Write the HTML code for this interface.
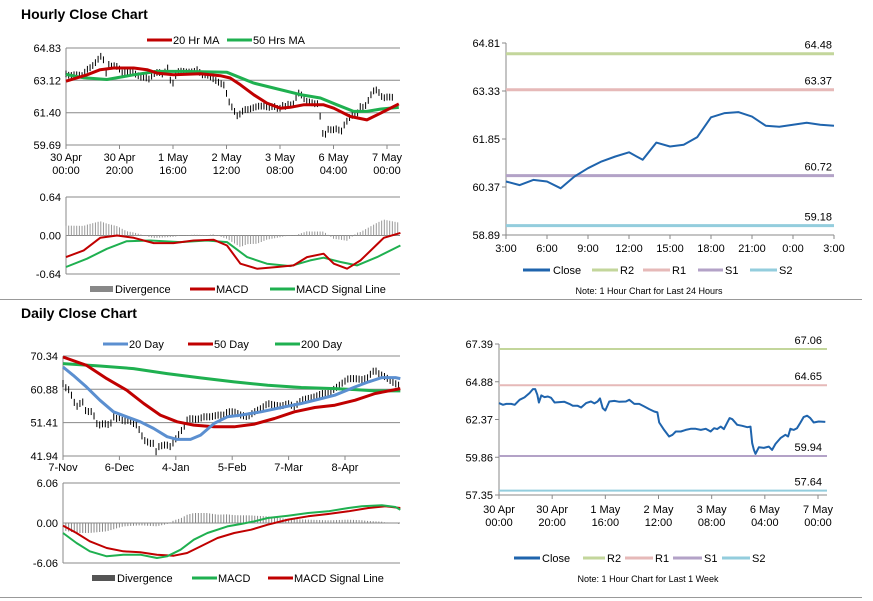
<!DOCTYPE html>
<html><head><meta charset="utf-8"><style>
html,body{margin:0;padding:0;background:#fff;}
svg{display:block;font-family:"Liberation Sans",Arial,sans-serif;}
</style></head><body>
<svg id="c" width="873" height="601" viewBox="0 0 873 601">
<rect x="0" y="0" width="873" height="601" fill="#fff"/>
<line x1="0" y1="299.5" x2="862" y2="299.5" stroke="#999"/>
<line x1="0" y1="597.5" x2="862" y2="597.5" stroke="#999"/>
<text x="21" y="19" font-size="14" font-weight="bold">Hourly Close Chart</text>
<text x="21" y="318" font-size="14" font-weight="bold">Daily Close Chart</text>

<g font-size="11">
<line x1="147" y1="40" x2="172" y2="40" stroke="#c00000" stroke-width="3"/>
<text x="173" y="44">20 Hr MA</text>
<line x1="227" y1="40" x2="252" y2="40" stroke="#1fb050" stroke-width="3"/>
<text x="253" y="44">50 Hrs MA</text>
</g>
<g font-size="11">
<rect x="90" y="286" width="23" height="6" fill="#888"/>
<text x="115" y="293">Divergence</text>
<line x1="190" y1="289" x2="215" y2="289" stroke="#c00000" stroke-width="3"/>
<text x="216" y="293">MACD</text>
<line x1="270" y1="289" x2="295" y2="289" stroke="#1fb050" stroke-width="3"/>
<text x="296" y="293">MACD Signal Line</text>
</g>
<g font-size="11">
<line x1="103" y1="344" x2="128" y2="344" stroke="#5b8fd0" stroke-width="3"/>
<text x="129" y="348">20 Day</text>
<line x1="188" y1="344" x2="213" y2="344" stroke="#c00000" stroke-width="3"/>
<text x="214" y="348">50 Day</text>
<line x1="275" y1="344" x2="300" y2="344" stroke="#1fb050" stroke-width="3"/>
<text x="301" y="348">200 Day</text>
</g>
<g font-size="11">
<rect x="92" y="575" width="23" height="6" fill="#555"/>
<text x="117" y="582">Divergence</text>
<line x1="192" y1="578" x2="217" y2="578" stroke="#1fb050" stroke-width="3"/>
<text x="218" y="582">MACD</text>
<line x1="268" y1="578" x2="293" y2="578" stroke="#c00000" stroke-width="3"/>
<text x="294" y="582">MACD Signal Line</text>
</g>
<g font-size="11">
<line x1="523" y1="270" x2="550" y2="270" stroke="#1f64ad" stroke-width="3"/>
<text x="553" y="274">Close</text>
<line x1="592" y1="270" x2="618" y2="270" stroke="#c3d69b" stroke-width="3"/>
<text x="620" y="274">R2</text>
<line x1="643" y1="270" x2="670" y2="270" stroke="#e6b9b8" stroke-width="3"/>
<text x="672" y="274">R1</text>
<line x1="698" y1="270" x2="723" y2="270" stroke="#b3a2c7" stroke-width="3"/>
<text x="725" y="274">S1</text>
<line x1="750" y1="270" x2="777" y2="270" stroke="#93cddd" stroke-width="3"/>
<text x="779" y="274">S2</text>
<text x="649" y="294" font-size="9" text-anchor="middle">Note: 1 Hour Chart for Last 24 Hours</text>
</g>
<g font-size="11">
<line x1="514" y1="558" x2="540" y2="558" stroke="#1f64ad" stroke-width="3"/>
<text x="542" y="562">Close</text>
<line x1="583" y1="558" x2="605" y2="558" stroke="#c3d69b" stroke-width="3"/>
<text x="607" y="562">R2</text>
<line x1="625" y1="558" x2="653" y2="558" stroke="#e6b9b8" stroke-width="3"/>
<text x="655" y="562">R1</text>
<line x1="673" y1="558" x2="702" y2="558" stroke="#b3a2c7" stroke-width="3"/>
<text x="704" y="562">S1</text>
<line x1="722" y1="558" x2="750" y2="558" stroke="#93cddd" stroke-width="3"/>
<text x="752" y="562">S2</text>
<text x="648" y="582" font-size="9" text-anchor="middle">Note: 1 Hour Chart for Last 1 Week</text>
</g>
</svg>
<script>
// ---------- DATA ----------
const weekHours=[0,1.5,2.75,4.6,5.9,7.75,9.6,11.5,12.75,13.6,14.4,15,15.9,17.1,18.4,19.6,20.9,22.75,24.6,26.5,27.75,29.6,30.9,32.75,34.6,35.9,37.1,38,39,40,41.5,43.4,45.25,47.75,49,50.9,52.75,54.6,56.5,58.4,59.6,60.25,62.1,64,65.25,66.5,68.4,70.25,72.1,74,75.9,77.75,79.6,80.9,82.1,83.4,84.6,86.75,87.75,89.6,91.5,93.4,94.6,95.25,95.9,96.5,97.75,99.6,101.5,102.75,104,105.9,107.75,108.75,109.6,110.9,112.1,113.4,114.6,115.9,117.1,118.4,120.25,122.75];
const weekClose=[63.46,63.35,63.41,63.41,63.35,63.68,63.84,64.13,64.39,64.39,64.02,63.50,63.97,63.86,63.90,63.81,63.50,63.53,63.55,63.41,63.28,63.28,63.17,63.46,63.57,63.44,63.57,63.77,63.13,62.97,63.57,63.61,63.55,63.57,63.68,63.41,63.41,63.24,63.06,62.90,62.84,62.17,61.68,61.24,61.35,61.57,61.57,61.68,61.75,61.75,61.68,61.75,61.57,61.79,61.73,61.90,61.73,62.46,62.39,62.02,61.95,61.86,61.90,60.79,60.35,60.08,60.53,60.48,60.57,60.35,60.75,61.13,61.35,61.24,61.75,61.68,61.79,62.17,62.53,62.62,62.46,62.17,62.24,62.21];
const hourTickHours=[0,20,40,60,80,100,120];
const hourTickLine1=["30 Apr","30 Apr","1 May","2 May","3 May","6 May","7 May"];
const hourTickLine2=["00:00","20:00","16:00","12:00","08:00","04:00","00:00"];
const ma20Hours=[0,7.85,12.8,17.8,25.3,30.3,34,40.2,50.2,57.7,61.4,65.2,70.2,75.1,80.1,83.9,88.8,96.3,100.1,106.3,112.5,117.5,124.4];
const ma20Values=[63.07,63.41,63.68,63.77,63.77,63.68,63.50,63.41,63.47,63.36,63.24,62.88,62.35,61.91,61.64,61.69,61.82,61.82,61.64,61.20,61.02,61.37,61.87];
const ma50Hours=[0,6.6,15.3,25.3,34,43.9,60.2,63.9,70.2,77.6,87.6,95.1,101.3,107.5,112.5,117.5,124.4];
const ma50Values=[63.43,63.25,63.16,63.41,63.59,63.59,63.54,63.33,62.97,62.71,62.36,62.18,61.82,61.47,61.47,61.59,61.68];
const hMacdHours=[0,6.6,12.8,19.1,25.3,32.8,40.2,47.7,55.2,60.2,65.2,71.4,78.9,85.1,90.1,96.3,100.1,105.1,110.1,118.8,125];
const hMacdValues=[-0.359,-0.248,-0.039,0.0,-0.039,-0.127,-0.127,-0.083,-0.072,-0.166,-0.469,-0.552,-0.524,-0.497,-0.359,-0.303,-0.469,-0.552,-0.414,-0.039,0.044];
const hSigHours=[0,7.85,15.3,22.7,31.5,42.7,52.7,60.2,67.7,75.1,83.9,91.3,96.3,102.6,108.8,116.3,125];
const hSigValues=[-0.524,-0.386,-0.221,-0.094,-0.083,-0.110,-0.083,-0.110,-0.359,-0.469,-0.508,-0.414,-0.369,-0.441,-0.497,-0.359,-0.166];
const hPriceTicks=[59.69,61.40,63.12,64.83];
const hMacdTicks=[-0.64,0.00,0.64];

const dayIdx=[0,1.2,2.4,3.6,4.8,6.0,7.1,8.3,9.5,10.7,11.9,13.1,14.3,15.5,16.7,17.9,19.0,20.2,21.4,22.6,23.8,25.0,26.2,27.4,28.6,29.8,31.0,32.1,32.7,33.9,35.7,36.9,38.1,39.3,40.5,41.7,42.9,44.0,45.2,47.6,50.0,52.4,54.8,57.1,58.3,60.7,63.1,65.5,67.9,70.2,72.6,75.0,77.4,79.8,82.1,84.5,86.9,89.3,91.7,94.0,96.4,98.8,101.2,103.6,106.0,108.3,109.5,110.7,111.9,114.3,116.7,119.0,119.6];
const dayClose=[62.51,61.09,60.62,57.79,55.90,56.85,57.32,54.02,54.96,54.02,51.19,50.72,51.19,51.00,50.72,53.07,52.60,52.89,51.66,52.13,51.94,51.19,50.72,48.83,46.47,46.00,45.53,45.53,42.70,44.58,45.05,45.05,44.58,46.00,47.41,48.83,50.24,52.13,52.60,52.32,53.07,53.07,53.55,53.55,54.49,54.49,53.55,53.07,54.49,55.43,56.85,56.38,56.09,56.85,55.90,57.79,58.26,58.73,59.68,59.68,61.09,62.51,63.92,63.92,63.64,64.21,65.81,66.28,65.34,64.40,62.98,62.04,62.51];
const dayTickIdx=[0,20,40,60,80,100];
const dayTickLabels=["7-Nov","6-Dec","4-Jan","5-Feb","7-Mar","8-Apr"];
const d20Idx=[0,3.6,8.3,13.1,17.9,22.6,27.4,32.1,36.9,40.5,45.2,48.8,53.6,58.3,63.1,70.2,77.4,84.5,91.7,96.4,103.6,108.3,113.1,117.9,119.6];
const d20Values=[67.23,64.87,61.57,57.79,54.49,53.07,51.66,49.77,47.41,46.66,46.66,47.88,51.19,53.07,53.55,54.49,55.72,56.85,58.26,59.21,61.57,62.98,64.21,64.21,63.92];
const d50Idx=[0,8.3,15.5,22.6,28.6,34.5,40.5,46.4,53.6,60.7,67.9,75.0,82.1,89.3,96.4,103.6,110.7,119.6];
const d50Values=[70.06,67.70,63.92,60.62,56.85,53.55,51.66,50.72,50.24,50.24,51.00,52.60,54.49,55.72,56.38,57.79,59.68,61.09];
const d200Idx=[0,13.1,25.0,36.9,48.8,60.7,72.6,84.5,96.4,103.6,110.7,119.6];
const d200Values=[68.17,67.51,66.76,65.34,64.11,62.98,62.04,61.38,61.09,60.81,60.43,60.43];
const dMacdIdx=[0,4.8,9.5,15.5,21.4,27.4,33.3,36.9,41.7,46.4,51.2,58.3,63.1,67.9,72.6,79.8,86.9,94.0,101.2,106.0,113.1,117.9,119.6];
const dMacdValues=[-1.52,-3.03,-4.29,-5.05,-4.80,-4.80,-5.30,-5.05,-4.04,-2.53,-1.52,-0.51,-0.15,0.25,0.76,1.11,1.52,1.77,2.27,2.53,2.68,2.42,2.02];
const dSigIdx=[0,4.8,9.5,15.5,21.4,27.4,33.3,39.3,44.0,48.8,54.8,60.7,66.7,72.6,79.8,86.9,94.0,101.2,108.3,114.3,119.6];
const dSigValues=[-0.40,-1.52,-2.78,-3.79,-4.29,-4.44,-4.80,-4.95,-4.55,-3.54,-2.27,-1.52,-1.01,-0.25,0.51,1.01,1.36,1.77,2.27,2.53,2.27];
const dPriceTicks=[41.94,51.41,60.88,70.34];
const dMacdTicks=[-6.06,0.00,6.06];

const pivHourLabels=["3:00","6:00","9:00","12:00","15:00","18:00","21:00","0:00","3:00"];
const pivClose=[60.54,60.43,60.59,60.54,60.33,60.69,60.95,61.16,61.31,61.44,61.21,61.74,61.62,61.67,61.91,62.52,62.65,62.68,62.54,62.26,62.23,62.29,62.35,62.29,62.26];
const pivTicks=[58.89,60.37,61.85,63.33,64.81];
const pivLevelNames=["R2","R1","S1","S2"];
const pivLevels=[64.48,63.37,60.72,59.18];
const weekTicks=[57.35,59.86,62.37,64.88,67.39];
const weekLevels=[67.06,64.65,59.94,57.64];

// ---------- HELPERS ----------
const NS="http://www.w3.org/2000/svg";
const svg=document.getElementById('c');
const levelColors=["#c3d69b","#e6b9b8","#b3a2c7","#93cddd"];
function add(tag,attrs){const e=document.createElementNS(NS,tag);for(const k in attrs)e.setAttribute(k,attrs[k]);svg.appendChild(e);return e;}
function scale(d0,d1,r0,r1){return v=>r0+(v-d0)*(r1-r0)/(d1-d0);}
function interp(xs,ys,x){if(x<=xs[0])return ys[0];for(let i=1;i<xs.length;i++){if(x<=xs[i]){const t=(x-xs[i-1])/(xs[i]-xs[i-1]);return ys[i-1]+t*(ys[i]-ys[i-1]);}}return ys[ys.length-1];}
function pathD(xs,ys,sx,sy){return xs.map((x,i)=>(i?'L':'M')+sx(x).toFixed(1)+' '+sy(ys[i]).toFixed(1)).join(' ');}
function line(xs,ys,sx,sy,color,w,name){
  const p=add('path',{d:pathD(xs,ys,sx,sy),fill:'none',stroke:color,'stroke-width':w,'stroke-linejoin':'round'});
  
  
}
function text(x,y,s,anchor,name,size){
  const t=add('text',{x:x,y:y,'font-size':size||11,'text-anchor':anchor||'start'});
  t.textContent=s;
  
  
  return t;
}
function hline(x1,x2,y,color,w,name){
  const l=add('line',{x1:x1,x2:x2,y1:y,y2:y,stroke:color,'stroke-width':w});
  
  
}
function vline(x,y1,y2,color,w,name){
  const l=add('line',{x1:x,x2:x,y1:y1,y2:y2,stroke:color,'stroke-width':w});
  
  
}
function yAxisTicks(ticks,sy,x0,x1,grid,name){
  ticks.forEach(t=>{
    if(grid) hline(x0,x1,sy(t),'#888',1,name+'-gridline');
    text(x0-5,sy(t)+4,t.toFixed(2),'end',name+'-tick-label');
  });
  vline(x0,sy(ticks[ticks.length-1]),sy(ticks[0]),'#888',1,name+'-axis');
}
function bars(xs,sx,sy,hiFn,loFn,name){
  xs.forEach(x=>{
    const b=add('line',{x1:sx(x),x2:sx(x),y1:sy(hiFn(x)),y2:sy(loFn(x)),stroke:'#000','stroke-width':1});
    
    
  });
}

// ---------- HOURLY PRICE ----------
{
  const sx=scale(0,120,66,387), sy=scale(59.69,64.83,145,48);
  yAxisTicks(hPriceTicks,sy,66,400,true,'hourly-price');
  hourTickHours.forEach((h,i)=>{
    vline(sx(h),145,149,'#888',1,'hourly-x-tick');
    text(sx(h),161,hourTickLine1[i],'middle','hourly-x-label');
    text(sx(h),174,hourTickLine2[i],'middle','hourly-x-label');
  });
  const hrs=[];for(let h=0;h<=122;h++)hrs.push(h);
  bars(hrs,sx,sy,h=>interp(weekHours,weekClose,h)+0.18,h=>interp(weekHours,weekClose,h)-0.18,'hourly-price-bar');
  line(ma50Hours,ma50Values,sx,sy,'#1fb050',3,'hourly-50hr-ma-line');
  line(ma20Hours,ma20Values,sx,sy,'#c00000',3,'hourly-20hr-ma-line');
}
// ---------- HOURLY MACD ----------
{
  const sx=scale(0,120,66,387), sy=scale(-0.64,0.64,274,197);
  yAxisTicks(hMacdTicks,sy,66,400,true,'hourly-macd');
  for(let h=0;h<=124;h++){
    const d=interp(hMacdHours,hMacdValues,h)-interp(hSigHours,hSigValues,h);
    const b=add('line',{x1:sx(h),x2:sx(h),y1:sy(0),y2:sy(d),stroke:'#999','stroke-width':1});
    
    
  }
  line(hSigHours,hSigValues,sx,sy,'#1fb050',2,'hourly-macd-signal-line');
  line(hMacdHours,hMacdValues,sx,sy,'#c00000',2,'hourly-macd-line');
}
// ---------- DAILY PRICE ----------
{
  const sx=scale(0,100,63,345), sy=scale(41.94,70.34,456,356);
  yAxisTicks(dPriceTicks,sy,63,400,true,'daily-price');
  dayTickIdx.forEach((d,i)=>{
    vline(sx(d),456,460,'#888',1,'daily-x-tick');
    text(sx(d),471,dayTickLabels[i],'middle','daily-x-label');
  });
  const days=[];for(let d=0;d<=119;d++)days.push(d);
  bars(days,sx,sy,d=>interp(dayIdx,dayClose,d)+1.0,d=>interp(dayIdx,dayClose,d)-1.0,'daily-price-bar');
  line(d200Idx,d200Values,sx,sy,'#1fb050',3,'daily-200day-ma-line');
  line(d50Idx,d50Values,sx,sy,'#c00000',3,'daily-50day-ma-line');
  line(d20Idx,d20Values,sx,sy,'#5b8fd0',3,'daily-20day-ma-line');
}
// ---------- DAILY MACD ----------
{
  const sx=scale(0,100,63,345), sy=scale(-6.06,6.06,563,483);
  yAxisTicks(dMacdTicks,sy,63,400,true,'daily-macd');
  for(let d=0;d<=119;d++){
    const v=interp(dMacdIdx,dMacdValues,d)-interp(dSigIdx,dSigValues,d);
    const b=add('line',{x1:sx(d),x2:sx(d),y1:sy(0),y2:sy(v),stroke:'#888','stroke-width':1});
    
    
  }
  line(dSigIdx,dSigValues,sx,sy,'#c00000',2,'daily-macd-signal-line');
  line(dMacdIdx,dMacdValues,sx,sy,'#1fb050',2,'daily-macd-line');
}
// ---------- PIVOT 24H ----------
{
  const sx=scale(0,24,506,834), sy=scale(58.89,64.81,235,43);
  pivTicks.forEach(t=>{
    hline(502,506,sy(t),'#888',1,'pivot24-y-tick');
    text(500,sy(t)+4,t.toFixed(2),'end','pivot24-y-label');
  });
  vline(506,sy(64.81),sy(58.89),'#888',1,'pivot24-y-axis');
  hline(506,834,sy(58.89),'#888',1,'pivot24-x-axis');
  pivHourLabels.forEach((s,i)=>{
    vline(sx(i*3),235,239,'#888',1,'pivot24-x-tick');
    text(sx(i*3),252,s,'middle','pivot24-x-label');
  });
  pivLevels.forEach((v,i)=>{
    hline(506,834,sy(v),levelColors[i],3,'pivot24-level-'+pivLevelNames[i].toLowerCase());
    text(832,sy(v)-5,v.toFixed(2),'end','pivot24-level-label');
  });
  const xs=pivClose.map((v,i)=>i);
  line(xs,pivClose,sx,sy,'#1f64ad',2,'pivot24-close-line');
}
// ---------- PIVOT WEEK ----------
{
  const sx=scale(0,120,499,818), sy=scale(57.35,67.39,495,344);
  weekTicks.forEach(t=>{
    hline(495,499,sy(t),'#888',1,'pivotweek-y-tick');
    text(493,sy(t)+4,t.toFixed(2),'end','pivotweek-y-label');
  });
  vline(499,sy(67.39),sy(57.35),'#888',1,'pivotweek-y-axis');
  hline(499,827,sy(57.35),'#888',1,'pivotweek-x-axis');
  hourTickHours.forEach((h,i)=>{
    vline(sx(h),495,499,'#888',1,'pivotweek-x-tick');
    text(sx(h),513,hourTickLine1[i],'middle','pivotweek-x-label');
    text(sx(h),526,hourTickLine2[i],'middle','pivotweek-x-label');
  });
  weekLevels.forEach((v,i)=>{
    hline(499,827,sy(v),levelColors[i],2,'pivotweek-level-'+pivLevelNames[i].toLowerCase());
    text(822,sy(v)-5,v.toFixed(2),'end','pivotweek-level-label');
  });
  line(weekHours,weekClose,sx,sy,'#1f64ad',2,'pivotweek-close-line');
}
</script>
</body></html>
